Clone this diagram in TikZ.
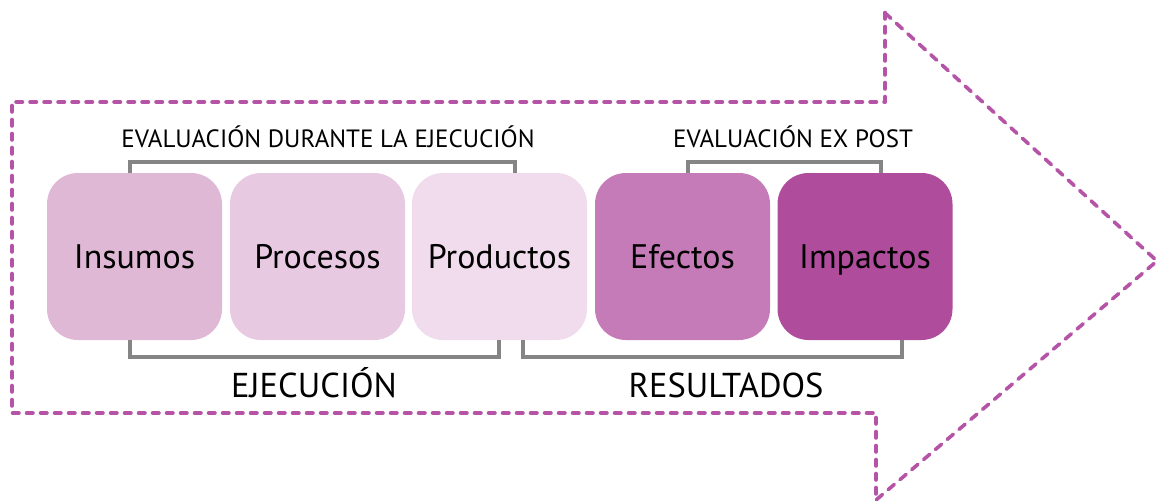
\documentclass[tikz,border=0pt]{standalone}
\usepackage{fontspec}
\setmainfont{PT Sans}
\usetikzlibrary{calc}
\definecolor{arrowc}{HTML}{B554A6}
\definecolor{brkc}{HTML}{858585}
\definecolor{cIns}{HTML}{DFB8D6}
\definecolor{cPro}{HTML}{E8C9E2}
\definecolor{cProd}{HTML}{F0DCEC}
\definecolor{cEf}{HTML}{C47BB7}
\definecolor{cImp}{HTML}{B04C9C}
\tikzset{
  stagebox/.style={draw=none, rounded corners=31pt, minimum width=175pt, minimum height=167pt,
    inner sep=0pt, font=\fontsize{34}{40}\selectfont, text height=24pt, text depth=0pt},
  brk/.style={draw=brkc, line width=3.5pt, line join=miter},
  toplabel/.style={anchor=base, inner sep=0pt, font=\fontsize{25}{28}\selectfont},
  botlabel/.style={anchor=base, inner sep=0pt, font=\fontsize{34.5}{38}\selectfont},
  dashshaft/.style={draw=arrowc, line width=4.6pt, dash pattern=on 5.5pt off 8.5pt, line cap=round, line join=round},
  dashhead/.style={draw=arrowc, line width=3.6pt, dash pattern=on 8pt off 7.5pt, line cap=round, line join=round}
}
\begin{document}
\begin{tikzpicture}[x=1pt,y=-1pt]
\useasboundingbox (0,0) rectangle (1161,503);
% dashed big arrow
\coordinate (a1) at (12,102);
\coordinate (a2) at (885,102);
\coordinate (a3) at (885,13);
\coordinate (a4) at (1157,261);
\coordinate (a5) at (876,500);
\coordinate (a6) at (876,413);
\coordinate (a7) at (12,413);
\draw[dashshaft] (a3) -- (a2) -- (a1) -- (a7) -- (a6) -- (a5);
\draw[dashhead] (a3) -- (a4) -- (a5);
% stage boxes
\node[stagebox, fill=cIns]  (ins)  at (134.5,256.5) {Insumos};
\node[stagebox, fill=cPro]  (pro)  at (317.5,256.5) {Procesos};
\node[stagebox, fill=cProd] (prod) at (499.5,256.5) {Productos};
\node[stagebox, fill=cEf]   (ef)   at (682.5,256.5) {Efectos};
\node[stagebox, fill=cImp]  (imp)  at (865,256.5) {Impactos};
% brackets
\draw[brk] ([xshift=-4.5pt]ins.north) -- ++(0,-11) -| ([xshift=15.5pt]prod.north);
\draw[brk] ([xshift=5.5pt]ef.north) -- ++(0,-11) -| ([xshift=16pt]imp.north);
\draw[brk] ([xshift=-4.5pt]ins.south) -- ++(0,17) -| ([xshift=-0.5pt]prod.south);
\draw[brk] ([xshift=23.5pt]prod.south) -- ++(0,17) -| ([xshift=37pt]imp.south);
% labels
\node[toplabel] (ldur) at (328,147) {EVALUACIÓN DURANTE LA EJECUCIÓN};
\node[toplabel] (lexp) at (793,147) {EVALUACIÓN EX POST};
\node[botlabel] (leje) at (314,397) {EJECUCIÓN};
\node[botlabel] (lres) at (726,397) {RESULTADOS};
\end{tikzpicture}
\end{document}
